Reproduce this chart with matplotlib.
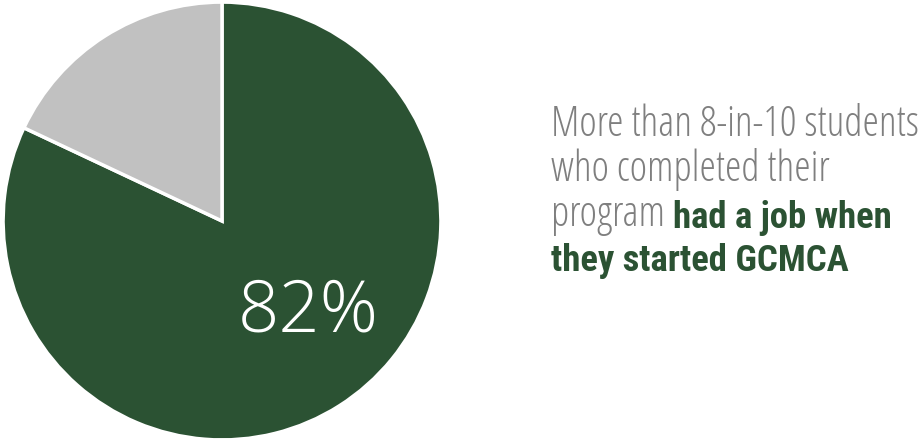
import matplotlib.pyplot as plt
from matplotlib import font_manager

# share of students who had a job
labels = ["Had a job", "No job"]
shares = [82, 18]
colors = ["#2b5233", "#c1c1c1"]

grey = "#7f7f7f"
green = "#2b5233"
fam = ["Open Sans", "DejaVu Sans"]

installed = {f.name for f in font_manager.fontManager.ttflist}
light = dict(family=fam, stretch="condensed", weight=300)
if "Roboto Condensed" in installed:
    bold = dict(family=["Roboto Condensed", "DejaVu Sans"], weight="bold")
else:
    bold = dict(family=fam, stretch="condensed", weight="bold")

fig = plt.figure(figsize=(9.18, 4.42), dpi=100)
ax = fig.add_axes([2 / 918, 0, 440 / 918, 1])
ax.pie(shares, colors=colors, startangle=90, counterclock=False,
       wedgeprops=dict(edgecolor="white", linewidth=2.5))
ax.set_xlim(-1.005, 1.005)
ax.set_ylim(-1.005, 1.005)
ax.set_aspect("equal")
ax.text(0.395, -0.42, f"{shares[0]}%", color="white", fontsize=52,
        family=fam, weight=300, ha="center", va="center")

# caption on the right
tx = fig.add_axes([0, 0, 1, 1])
tx.axis("off")
tx.set_xlim(0, 918)
tx.set_ylim(442, 0)
fs = 30
fs_bold = 26.5
lines = [("More than 8-in-10 students", None), ("who completed their", None),
         ("program ", "had a job when"), (None, "they started GCMCA")]
y0, step = 136, 45
for i, (plain, strong) in enumerate(lines):
    y = y0 + i * step
    prev = None
    if plain:
        prev = tx.text(551, y, plain, color=grey, fontsize=fs,
                       ha="left", va="baseline", **light)
    if strong:
        if prev is None:
            tx.text(551, y, strong, color=green, fontsize=fs_bold,
                    ha="left", va="baseline", **bold)
        else:
            tx.annotate(strong, xy=(1, 0), xycoords=prev, xytext=(0, 0),
                        textcoords="offset points", color=green,
                        fontsize=fs_bold, ha="left", va="bottom", **bold)

fig.savefig("out.png", dpi=100, facecolor="white")
